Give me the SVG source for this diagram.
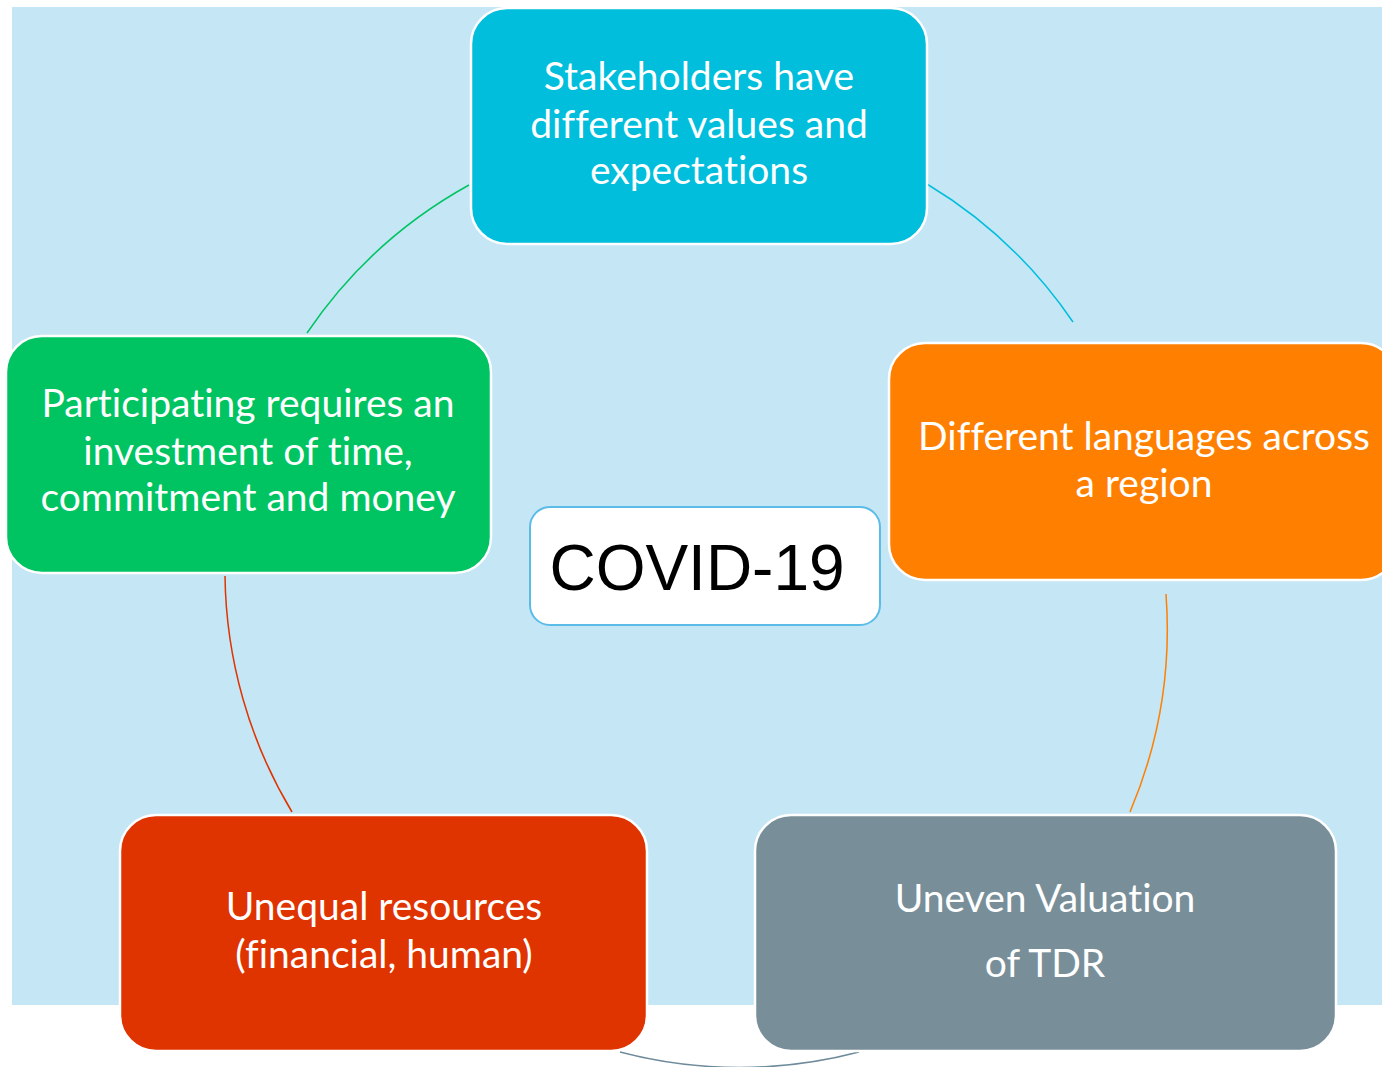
<svg xmlns="http://www.w3.org/2000/svg" width="1382" height="1067" viewBox="0 0 1382 1067">
<style>
.box{stroke:#FFFFFF;stroke-width:2.5}
.lbl{font-family:Lato,"Open Sans","Liberation Sans",sans-serif;font-size:39px;fill:#FFFFFF;text-anchor:middle;font-variant-ligatures:none}
.arc{fill:none;stroke-width:1.5}
</style>
<rect x="0" y="0" width="1382" height="1067" fill="#FFFFFF"/>
<rect x="12" y="7" width="1370" height="998" fill="#C5E6F5"/>
<g id="connectors">
<path class="arc" stroke="#00C462" d="M307,333 A470,470 0 0 1 469,185"/>
<path class="arc" stroke="#00BEDC" d="M927,184 A470,470 0 0 1 1073,322"/>
<path class="arc" stroke="#FF7F00" d="M1166,594 A470,470 0 0 1 1130,812"/>
<path class="arc" stroke="#6E8B9B" d="M859,1052 A470,470 0 0 1 620,1052"/>
<path class="arc" stroke="#DF3300" d="M292,812 A470,470 0 0 1 225,576"/>
</g>
<g id="node-stakeholders">
<rect class="box" x="471" y="8" width="456" height="236" rx="36" fill="#00BEDC"/>
<text class="lbl" x="699" y="90">Stakeholders have</text>
<text class="lbl" x="699" y="138">different values and</text>
<text class="lbl" x="699" y="184">expectations</text>
</g>
<g id="node-languages">
<rect class="box" x="889" y="343" width="508" height="237" rx="36" fill="#FF7F00"/>
<text class="lbl" x="1144" y="450">Different languages across</text>
<text class="lbl" x="1144" y="497">a region</text>
</g>
<g id="node-valuation">
<rect class="box" x="755" y="815" width="581" height="236" rx="36" fill="#788F9A"/>
<text class="lbl" x="1045" y="912">Uneven Valuation</text>
<text class="lbl" x="1045" y="977">of TDR</text>
</g>
<g id="node-resources">
<rect class="box" x="120" y="815" width="527" height="236" rx="36" fill="#DF3300"/>
<text class="lbl" x="384" y="920">Unequal resources</text>
<text class="lbl" x="384" y="968">(financial, human)</text>
</g>
<g id="node-participating">
<rect class="box" x="6" y="336" width="485" height="237" rx="36" fill="#00C462"/>
<text class="lbl" x="248" y="417">Participating requires an</text>
<text class="lbl" x="248" y="465">investment of time,</text>
<text class="lbl" x="248" y="511">commitment and money</text>
</g>
<g id="node-covid">
<rect x="530" y="507" width="350" height="118" rx="20" fill="#FFFFFF" stroke="#5BBCE8" stroke-width="2"/>
<text x="697" y="590" font-family="'Liberation Sans',Arial,sans-serif" font-size="64" fill="#000000" text-anchor="middle">COVID-19</text>
</g>
</svg>
